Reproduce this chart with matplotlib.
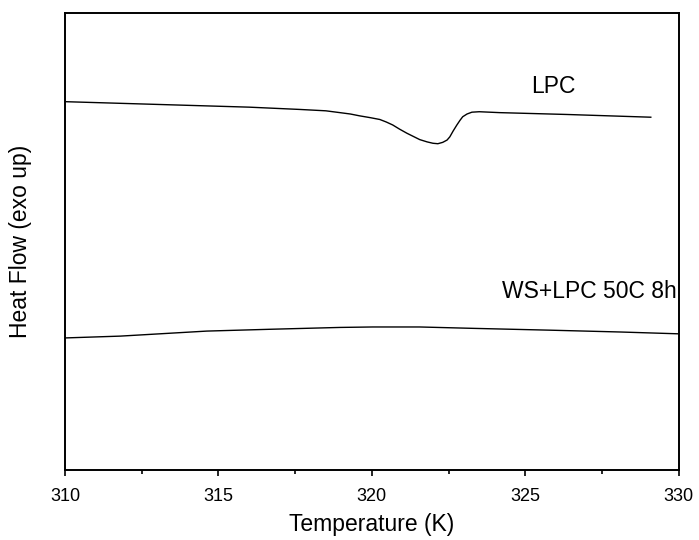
import matplotlib
matplotlib.use("Agg")
import matplotlib.pyplot as plt
from matplotlib.ticker import MultipleLocator

plt.rcParams['font.family'] = ['Liberation Sans', 'DejaVu Sans']

# DSC traces (temperature in K, heat flow in arbitrary units, exo up)
lpc_temp = [310.0, 312.0, 314.0, 316.0, 317.65, 318.5, 318.96, 319.3, 319.6,
            319.95, 320.26, 320.47, 320.68, 320.9, 321.14, 321.35, 321.56,
            321.8, 321.99, 322.15, 322.31, 322.45, 322.54, 322.65, 322.77,
            322.87, 322.96, 323.1, 323.26, 323.5, 324.17, 326.35, 329.09]
lpc_flow = [8.06, 8.02, 7.98, 7.94, 7.89, 7.86, 7.82, 7.79, 7.75,
            7.71, 7.67, 7.615, 7.55, 7.46, 7.37, 7.30, 7.23,
            7.18, 7.15, 7.14, 7.17, 7.22, 7.29, 7.42, 7.55,
            7.65, 7.73, 7.79, 7.83, 7.84, 7.82, 7.78, 7.72]

ws_temp = [310.0, 311.8, 314.62, 316.7, 318.96, 320.03, 321.56, 323.29, 325.8, 328.1, 330.0]
ws_flow = [2.89, 2.93, 3.04, 3.08, 3.12, 3.13, 3.13, 3.10, 3.06, 3.02, 2.98]

labels = ["LPC", "WS+LPC 50C 8h"]
label_pos = [(325.9, 8.40), (327.1, 3.90)]

fig = plt.figure(figsize=(6.99, 5.40), dpi=100)
ax = fig.add_axes([0.093, 0.1296, 0.878, 0.8463])

ax.plot(lpc_temp, lpc_flow, color='black', lw=1.0)
ax.plot(ws_temp, ws_flow, color='black', lw=1.0)

for txt, (x, y) in zip(labels, label_pos):
    ax.text(x, y, txt, fontsize=16.5, ha='center', va='center')

ax.set_xlim(310, 330)
ax.set_ylim(0, 10)
ax.xaxis.set_major_locator(MultipleLocator(5))
ax.xaxis.set_minor_locator(MultipleLocator(2.5))
ax.tick_params(axis='x', which='major', direction='out', length=4, width=1.2,
               labelsize=13, pad=9)
ax.tick_params(axis='x', which='minor', direction='out', length=3, width=1.2)
ax.set_yticks([])
for s in ax.spines.values():
    s.set_linewidth(1.4)

ax.set_xlabel("Temperature (K)", fontsize=16.5, labelpad=6)
ax.set_ylabel("Heat Flow (exo up)", fontsize=16.5, labelpad=24)

fig.savefig("out.png", dpi=100)
